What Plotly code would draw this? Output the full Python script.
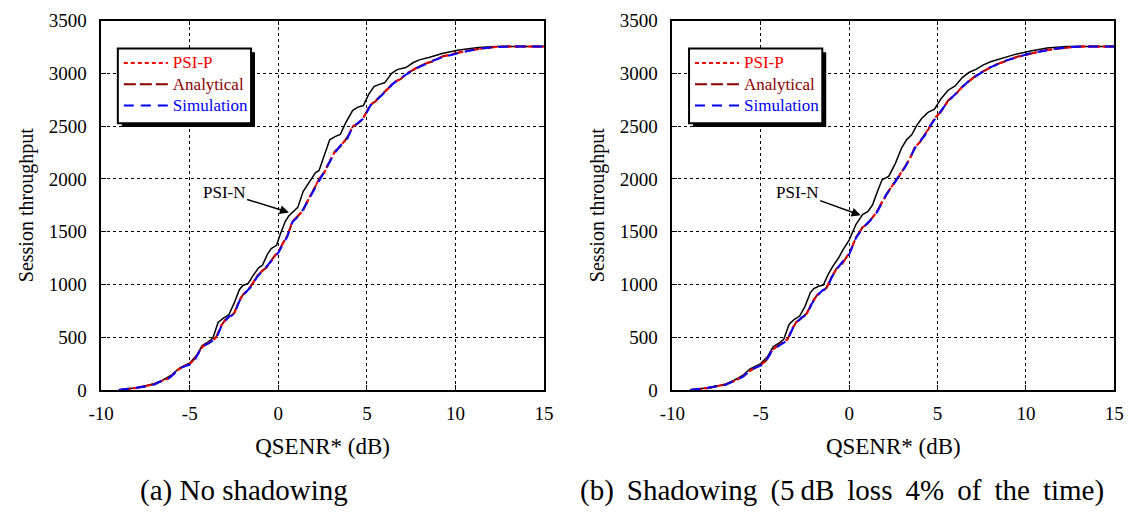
import plotly.graph_objects as go

# ---------------- data (left: no shadowing) ----------------
a_psip_x = [-9.0, -8.5, -8.0, -7.5, -7.0, -6.5, -6.2, -6.0, -5.6, -5.3, -5.0, -4.7, -4.3, -4.0, -3.7, -3.5,
            -3.2, -3.0, -2.8, -2.5, -2.2, -2.0, -1.7, -1.5, -1.2, -0.9, -0.7, -0.4, -0.2, 0.0, 0.3, 0.5,
            0.8, 1.1, 1.4, 1.7, 2.0, 2.3, 2.6, 2.9, 3.2, 3.5, 3.9, 4.2, 4.5, 4.8, 5.2, 5.5, 5.8, 6.2,
            6.5, 6.9, 7.3, 7.8, 8.3, 8.7, 9.3, 10.0, 10.7, 11.5, 12.3, 13.0, 15.0]
a_psip_y = [0, 8, 20, 35, 55, 90, 110, 140, 200, 225, 245, 300, 410, 440, 470, 500,
            620, 660, 690, 720, 850, 900, 950, 990, 1080, 1130, 1150, 1230, 1270, 1310, 1400, 1460,
            1600, 1645, 1700, 1810, 1900, 2000, 2060, 2170, 2260, 2310, 2390, 2500, 2520, 2580, 2700, 2740, 2790, 2860,
            2910, 2950, 3000, 3055, 3090, 3115, 3160, 3190, 3215, 3236, 3250, 3255, 3255]
a_anal_y = [0, 7, 19, 34, 56, 88, 112, 138, 198, 227, 247, 298, 405, 442, 468, 505,
            615, 662, 688, 725, 845, 902, 948, 995, 1075, 1132, 1155, 1225, 1272, 1305, 1405, 1455,
            1595, 1648, 1705, 1805, 1905, 1995, 2065, 2165, 2262, 2305, 2395, 2495, 2525, 2575, 2705, 2735, 2795, 2855,
            2915, 2945, 3005, 3050, 3092, 3112, 3162, 3188, 3217, 3234, 3250, 3255, 3255]
a_sim_x = [-9.0, -8.5, -8.0, -7.5, -7.0, -6.5, -6.2, -6.0, -5.6, -5.3, -5.0, -4.7, -4.3, -4.0, -3.7, -3.5,
           -3.2, -3.0, -2.8, -2.5, -2.2, -2.0, -1.7, -1.5, -1.2, -0.9, -0.7, -0.4, -0.2, 0.0, 0.3, 0.5,
           0.8, 1.1, 1.4, 1.7, 2.0, 2.3, 2.6, 2.9, 3.2, 3.5, 3.9, 4.2, 4.5, 4.8, 5.2, 5.5, 5.8, 6.2,
           6.5, 6.9, 7.3, 7.8, 8.3, 8.7, 9.3, 10.0, 10.7, 11.5, 12.3, 13.0, 15.0]
a_sim_y = [0, 9, 22, 33, 52, 92, 108, 135, 205, 222, 240, 290, 415, 435, 465, 490,
           610, 655, 695, 715, 840, 895, 955, 985, 1070, 1125, 1160, 1220, 1265, 1300, 1390, 1450,
           1590, 1640, 1710, 1800, 1890, 1990, 2070, 2160, 2250, 2315, 2385, 2490, 2530, 2570, 2695, 2745, 2785, 2850,
           2905, 2955, 2995, 3050, 3085, 3118, 3155, 3185, 3212, 3238, 3250, 3255, 3255]
a_psin_x = [-9.0, -8.0, -7.0, -6.5, -6.0, -5.6, -5.0, -4.6, -4.3, -4.0, -3.7, -3.4, -3.1, -2.8, -2.5, -2.2,
            -2.0, -1.7, -1.4, -1.1, -0.9, -0.6, -0.4, -0.1, 0.1, 0.4, 0.6, 0.9, 1.1, 1.4, 1.8, 2.1,
            2.3, 2.6, 2.9, 3.2, 3.5, 3.8, 4.2, 4.5, 4.8, 5.1, 5.4, 5.7, 6.0, 6.4, 6.7, 7.2, 7.6, 8.0,
            8.5, 9.3, 10.2, 11.3, 12.3, 15.0]
a_psin_y = [0, 20, 60, 95, 145, 205, 255, 330, 420, 450, 490, 640, 680, 710, 820, 950,
            990, 1010, 1090, 1160, 1180, 1290, 1340, 1370, 1470, 1600, 1650, 1700, 1730, 1880, 1990, 2060,
            2080, 2230, 2370, 2400, 2420, 2530, 2650, 2680, 2695, 2800, 2875, 2895, 2910, 3000, 3035, 3055, 3100, 3130,
            3150, 3190, 3221, 3245, 3255, 3255]

# ---------------- data (right: shadowing) ----------------
b_psip_x = [-9.0, -8.0, -7.0, -6.5, -6.0, -5.5, -5.0, -4.7, -4.3, -4.0, -3.5, -3.2, -3.0, -2.7, -2.4, -2.1,
            -1.8, -1.5, -1.28, -1.0, -0.72, -0.4, 0.02, 0.39, 0.76, 1.05, 1.32, 1.6, 1.87, 2.15, 2.43, 2.8,
            3.17, 3.45, 3.72, 4.0, 4.28, 4.55, 4.83, 5.2, 5.6, 6.0, 6.4, 6.8, 7.3, 7.8, 8.3, 8.8,
            9.5, 10.2, 11.0, 11.8, 12.6, 13.2, 15.0]
b_psip_y = [0, 18, 50, 85, 130, 195, 235, 280, 390, 420, 480, 590, 640, 680, 720, 830,
            900, 940, 964, 1070, 1145, 1200, 1297, 1448, 1539, 1580, 1630, 1700, 1782, 1860, 1933, 2020,
            2115, 2200, 2297, 2350, 2418, 2490, 2570, 2640, 2740, 2800, 2870, 2930, 2990, 3040, 3080, 3115,
            3155, 3185, 3215, 3235, 3250, 3255, 3255]
b_anal_y = [0, 17, 52, 83, 132, 192, 238, 278, 385, 423, 477, 585, 643, 678, 725, 825,
            903, 937, 968, 1065, 1148, 1195, 1300, 1443, 1542, 1576, 1634, 1696, 1786, 1856, 1937, 2016,
            2118, 2196, 2300, 2346, 2422, 2486, 2573, 2636, 2744, 2797, 2874, 2926, 2994, 3037, 3083, 3112,
            3157, 3183, 3217, 3233, 3250, 3255, 3255]
b_sim_x = [-9.0, -8.0, -7.0, -6.5, -6.0, -5.5, -5.0, -4.7, -4.3, -4.0, -3.5, -3.2, -3.0, -2.7, -2.4, -2.1,
           -1.8, -1.5, -1.28, -1.0, -0.72, -0.4, 0.02, 0.39, 0.76, 1.05, 1.32, 1.6, 1.87, 2.15, 2.43, 2.8,
           3.17, 3.45, 3.72, 4.0, 4.28, 4.55, 4.83, 5.2, 5.6, 6.0, 6.4, 6.8, 7.3, 7.8, 8.3, 8.8,
           9.5, 10.2, 11.0, 11.8, 12.6, 13.2, 15.0]
b_sim_y = [0, 20, 48, 88, 125, 200, 230, 275, 395, 415, 470, 580, 635, 685, 715, 820,
           895, 945, 960, 1060, 1140, 1210, 1290, 1440, 1530, 1585, 1625, 1690, 1775, 1865, 1925, 2025,
           2110, 2205, 2290, 2355, 2410, 2495, 2565, 2645, 2735, 2805, 2865, 2935, 2985, 3045, 3078, 3118,
           3152, 3188, 3212, 3237, 3250, 3255, 3255]
b_psin_x = [-9.0, -8.0, -7.0, -6.5, -6.0, -5.6, -5.0, -4.6, -4.3, -4.0, -3.7, -3.4, -3.1, -2.8, -2.5, -2.2,
            -2.0, -1.7, -1.46, -1.2, -0.91, -0.6, -0.35, 0.0, 0.39, 0.76, 1.05, 1.32, 1.6, 1.87, 2.24, 2.61,
            2.98, 3.25, 3.54, 3.8, 4.09, 4.46, 4.83, 5.2, 5.6, 6.0, 6.4, 6.8, 7.2, 7.6, 8.0, 8.6,
            9.3, 10.2, 11.2, 12.3, 15.0]
b_psin_y = [0, 20, 55, 92, 140, 200, 250, 320, 410, 440, 480, 620, 670, 700, 790, 920,
            960, 985, 994, 1090, 1176, 1250, 1327, 1420, 1570, 1661, 1690, 1752, 1880, 1994, 2024, 2145,
            2297, 2370, 2418, 2500, 2570, 2630, 2661, 2760, 2840, 2880, 2960, 3010, 3040, 3080, 3110, 3140,
            3175, 3210, 3240, 3255, 3255]

series_names = ["PSI-P", "Analytical", "Simulation"]
x_ticks = [-10, -5, 0, 5, 10, 15]
x_tick_labels = ["-10", "-5", "0", "5", "10", "15"]
y_ticks = [0, 500, 1000, 1500, 2000, 2500, 3000, 3500]
SP = " \u2009"  # stretched (justified) inter-word space of the LaTeX caption
captions = ["(a) No shadowing",
            SP.join(["(b)", "Shadowing", "(5\u2009dB", "loss", "4%", "of", "the", "time)"])]

# ---------------- styling ----------------
FONT = "Liberation Serif"
W, H = 1137, 518
C_PSIP, C_ANAL, C_SIM = "#ff0000", "#8b0000", "#0000ff"
DOM_X = [[90 / W, 542 / W], [673 / W, 1124 / W]]
DOM_Y = [1 - 396 / H, 1 - 11 / H]

fig = go.Figure()

panels = [
    (a_psin_x, a_psin_y, a_psip_x, a_psip_y, a_anal_y, a_sim_x, a_sim_y),
    (b_psin_x, b_psin_y, b_psip_x, b_psip_y, b_anal_y, b_sim_x, b_sim_y),
]
LEG_TXT = "<span style='color:{c};font-size:17px'>{t}</span>"
for i, (nx, ny, px, py, ay, sx, sy) in enumerate(panels):
    xa = "x" if i == 0 else "x2"
    ya = "y" if i == 0 else "y2"
    lg = "legend" if i == 0 else "legend2"
    fig.add_trace(go.Scatter(x=nx, y=ny, mode="lines", xaxis=xa, yaxis=ya, showlegend=False,
                             line=dict(color="black", width=1.5), name="PSI-N"))
    fig.add_trace(go.Scatter(x=px, y=ay, mode="lines", xaxis=xa, yaxis=ya, legend=lg, legendrank=2,
                             name=LEG_TXT.format(c=C_ANAL, t=series_names[1]),
                             line=dict(color=C_ANAL, width=2, dash="12px,4px")))
    fig.add_trace(go.Scatter(x=px, y=py, mode="lines", xaxis=xa, yaxis=ya, legend=lg, legendrank=1,
                             name=LEG_TXT.format(c=C_PSIP, t=series_names[0]),
                             line=dict(color=C_PSIP, width=2, dash="4px,3px")))
    fig.add_trace(go.Scatter(x=sx, y=sy, mode="lines", xaxis=xa, yaxis=ya, legend=lg, legendrank=3,
                             name=LEG_TXT.format(c=C_SIM, t=series_names[2]),
                             line=dict(color=C_SIM, width=2, dash="10px,7px")))

axis_common = dict(
    showline=True, linecolor="black", linewidth=1.5, mirror="ticks",
    ticks="inside", ticklen=5, tickcolor="black", tickwidth=1,
    showgrid=True, gridcolor="black", gridwidth=1, griddash="dot",
    zeroline=False, tickfont=dict(family=FONT, size=19, color="black"),
)
for i in range(2):
    sx = "" if i == 0 else "2"
    fig.update_layout(**{
        f"xaxis{sx}": dict(axis_common, domain=DOM_X[i], range=[-10, 15], tickvals=x_ticks,
                           ticktext=x_tick_labels, anchor=f"y{sx}", ticklabelstandoff=6,
                           title=dict(text="QSENR* (dB)", font=dict(family=FONT, size=23, color="black"),
                                      standoff=14)),
        f"yaxis{sx}": dict(axis_common, domain=DOM_Y, range=[0, 3500], tickvals=y_ticks,
                           anchor=f"x{sx}", ticklabelstandoff=9,
                           title=dict(text="Session throughput", font=dict(family=FONT, size=20, color="black"),
                                      standoff=10)),
    })

# legends: entries from plotly, frame drawn as shapes (box with drop shadow)
leg_common = dict(bgcolor="rgba(0,0,0,0)", borderwidth=0,
                  font=dict(family=FONT, size=14, color="black"),
                  xanchor="left", yanchor="top", tracegroupgap=0, itemwidth=44)
fig.update_layout(
    legend=dict(leg_common, x=108 / W, y=1 - 39 / H),
    legend2=dict(leg_common, x=691 / W, y=1 - 39 / H),
)
LEG_W, LEG_H = 136, 78
for lx in (107, 690):
    fig.add_shape(type="rect", xref="paper", yref="paper",
                  x0=(lx + 4) / W, x1=(lx + LEG_W + 4) / W, y0=1 - (40 + LEG_H + 4) / H, y1=1 - 44 / H,
                  fillcolor="black", line=dict(width=0), layer="above")
    fig.add_shape(type="rect", xref="paper", yref="paper",
                  x0=lx / W, x1=(lx + LEG_W) / W, y0=1 - (40 + LEG_H) / H, y1=1 - 40 / H,
                  fillcolor="white", line=dict(color="black", width=2), layer="above")

# PSI-N annotations
for xa, ya, tx, ty, hx, hy in [("x", "y", -3.06, 1873, 0.6, 1682), ("x2", "y2", -2.94, 1873, 0.65, 1655)]:
    fig.add_annotation(x=hx, y=hy, xref=xa, yref=ya, ax=tx, ay=ty, axref=xa, ayref=ya,
                       text="PSI-N", showarrow=True, arrowhead=2, arrowsize=1.2, arrowwidth=1.5,
                       arrowcolor="black", font=dict(family=FONT, size=17, color="black"))

# captions
for cx, txt in [(236, captions[0]), (846, captions[1])]:
    fig.add_annotation(x=cx / W, y=1 - 497 / H, xref="paper", yref="paper", text=txt, showarrow=False,
                       xanchor="center", yanchor="middle", yshift=-4,
                       font=dict(family=FONT, size=29, color="black"))

fig.update_layout(width=W, height=H, margin=dict(l=0, r=0, t=0, b=0),
                  paper_bgcolor="white", plot_bgcolor="white", showlegend=True)

fig.write_html("out.html")
